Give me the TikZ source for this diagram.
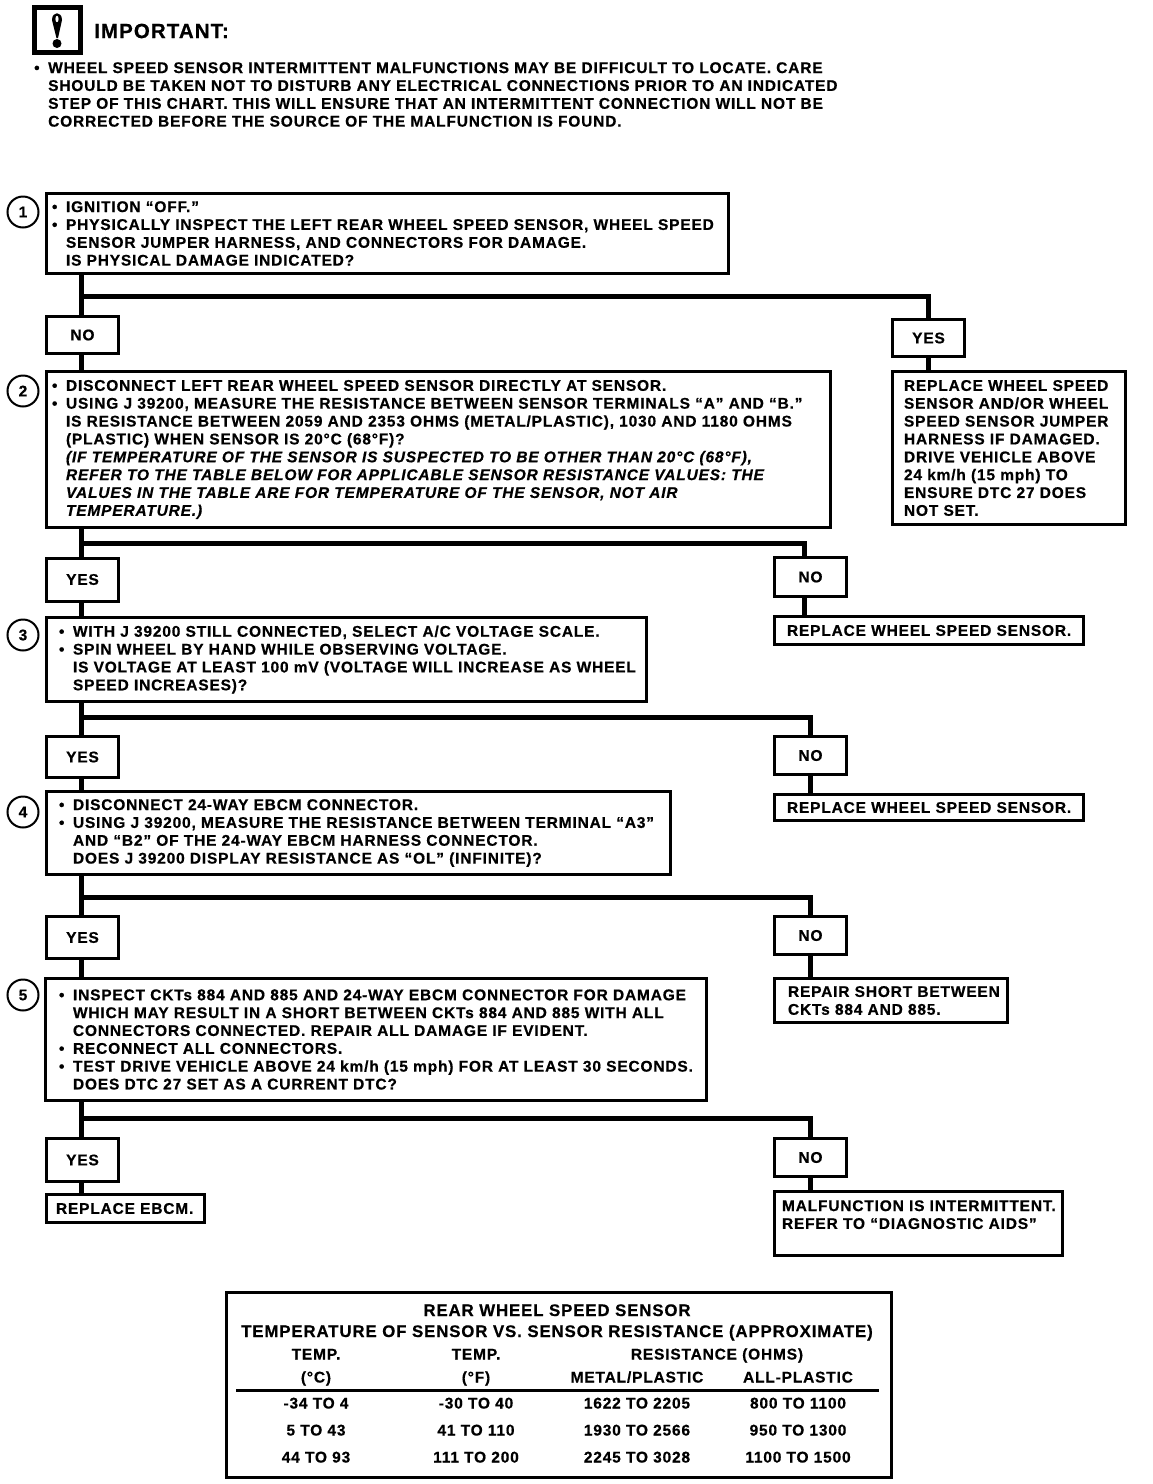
\documentclass[tikz,border=0pt]{standalone}
\usepackage{fontspec}
\setmainfont{Liberation Sans}[LetterSpace=5.3,BoldFeatures={FakeBold=0.6},BoldItalicFeatures={FakeBold=0.6}]
\usetikzlibrary{calc}
\newcommand{\chartfont}{\bfseries\fontsize{15.5}{17.85}\selectfont}
\newcommand{\bul}{\makebox[14pt][l]{\textbullet}}
\newcommand{\ind}{\hspace*{14pt}}
\tikzset{
  chartbox/.style n args={3}{draw,line width=3pt,anchor=north west,inner ysep=0pt,font=\chartfont,align=left,
    minimum width=#1pt,minimum height=#2pt,inner xsep=#3pt,text width=#1pt-2*#3pt},
  answer/.style 2 args={draw,line width=3pt,anchor=north west,inner sep=0pt,font=\chartfont,align=center,
    minimum width=#1pt,minimum height=#2pt},
  stepmark/.style={draw,circle,line width=2pt,minimum size=31pt,inner sep=0pt,font=\chartfont},
  wire/.style={line width=5pt},
  cell/.style={inner sep=0pt,font=\chartfont,text height=11pt,text depth=2pt},
  titlecell/.style={inner sep=0pt,font=\bfseries\fontsize{16.8}{20}\selectfont,text height=12pt,text depth=3pt},
}
\begin{document}
\begin{tikzpicture}[x=1pt,y=-1pt]
    \useasboundingbox (0,0) rectangle (1152,1484);
    % warning mark and note
    \draw[line width=5pt] (34.5,7.5) rectangle (80.5,52.5);
    \fill[black] (52,20) .. controls (52,11) and (62,11) .. (62,20) -- (58,38) -- (56.5,38) -- cycle;
    \fill[white] (57,19) ellipse (1.6 and 3.2);
    \fill[black] (57,43.5) circle (4.5);
    \node[anchor=west,inner sep=0pt,font=\bfseries\fontsize{20.5}{24}\selectfont] (H) at (94,31) {IMPORTANT:};
    \node[anchor=west,inner sep=0pt,font=\chartfont,align=left] (W) at (34,94.5) {%
      \bul WHEEL SPEED SENSOR INTERMITTENT MALFUNCTIONS MAY BE DIFFICULT TO LOCATE. CARE\\
      \ind SHOULD BE TAKEN NOT TO DISTURB ANY ELECTRICAL CONNECTIONS PRIOR TO AN INDICATED\\
      \ind STEP OF THIS CHART. THIS WILL ENSURE THAT AN INTERMITTENT CONNECTION WILL NOT BE\\
      \ind CORRECTED BEFORE THE SOURCE OF THE MALFUNCTION IS FOUND.};
    % numbered steps
    \node[stepmark] (C1) at (23,212) {1};
    \node[stepmark] (C2) at (23,391) {2};
    \node[stepmark] (C3) at (23,635) {3};
    \node[stepmark] (C4) at (23,812) {4};
    \node[stepmark] (C5) at (23,995) {5};
    \node[chartbox={682}{80}{5.5}] (B1) at (45,192) {%
      \bul IGNITION “OFF.”\\
      \bul PHYSICALLY INSPECT THE LEFT REAR WHEEL SPEED SENSOR, WHEEL SPEED\\
      \ind SENSOR JUMPER HARNESS, AND CONNECTORS FOR DAMAGE.\\
      \ind IS PHYSICAL DAMAGE INDICATED?};
    \node[chartbox={784}{156}{5.5}] (B2) at (45,370) {%
      \bul DISCONNECT LEFT REAR WHEEL SPEED SENSOR DIRECTLY AT SENSOR.\\
      \bul USING J 39200, MEASURE THE RESISTANCE BETWEEN SENSOR TERMINALS “A” AND “B.”\\
      \ind IS RESISTANCE BETWEEN 2059 AND 2353 OHMS (METAL/PLASTIC), 1030 AND 1180 OHMS\\
      \ind (PLASTIC) WHEN SENSOR IS 20\textdegree C (68\textdegree F)?\\
      \ind\textit{(IF TEMPERATURE OF THE SENSOR IS SUSPECTED TO BE OTHER THAN 20\textdegree C (68\textdegree F),}\\
      \ind\textit{REFER TO THE TABLE BELOW FOR APPLICABLE SENSOR RESISTANCE VALUES: THE}\\
      \ind\textit{VALUES IN THE TABLE ARE FOR TEMPERATURE OF THE SENSOR, NOT AIR}\\
      \ind\textit{TEMPERATURE.)}};
    \node[chartbox={600}{84}{8}] (B3) at (45,616) {%
      \hspace*{4.5pt}\bul WITH J 39200 STILL CONNECTED, SELECT A/C VOLTAGE SCALE.\\
      \hspace*{4.5pt}\bul SPIN WHEEL BY HAND WHILE OBSERVING VOLTAGE.\\
      \hspace*{18.5pt}IS VOLTAGE AT LEAST 100 mV (VOLTAGE WILL INCREASE AS WHEEL\\
      \hspace*{18.5pt}SPEED INCREASES)?};
    \node[chartbox={624}{83}{12.5}] (B4) at (45,790) {%
      \bul DISCONNECT 24-WAY EBCM CONNECTOR.\\
      \bul USING J 39200, MEASURE THE RESISTANCE BETWEEN TERMINAL “A3”\\
      \ind AND “B2” OF THE 24-WAY EBCM HARNESS CONNECTOR.\\
      \ind DOES J 39200 DISPLAY RESISTANCE AS “OL” (INFINITE)?};
    \node[chartbox={661}{122}{13.5}] (B5) at (44,977) {%
      \bul INSPECT CKTs 884 AND 885 AND 24-WAY EBCM CONNECTOR FOR DAMAGE\\
      \ind WHICH MAY RESULT IN A SHORT BETWEEN CKTs 884 AND 885 WITH ALL\\
      \ind CONNECTORS CONNECTED. REPAIR ALL DAMAGE IF EVIDENT.\\
      \bul RECONNECT ALL CONNECTORS.\\
      \bul TEST DRIVE VEHICLE ABOVE 24 km/h (15 mph) FOR AT LEAST 30 SECONDS.\\
      \ind DOES DTC 27 SET AS A CURRENT DTC?};
    % answers
    \node[answer={72}{37}] (N1) at (45,315) {NO};
    \node[answer={72}{37}] (Y1) at (891,318) {YES};
    \node[answer={72}{43}] (Y2) at (45,556.5) {YES};
    \node[answer={72}{39}] (N2) at (773,556) {NO};
    \node[answer={72}{41}] (Y3) at (45,735) {YES};
    \node[answer={72}{38}] (N3) at (773,735) {NO};
    \node[answer={72}{42}] (Y4) at (45,915) {YES};
    \node[answer={72}{38}] (N4) at (773,915) {NO};
    \node[answer={72}{43}] (Y5) at (45,1137) {YES};
    \node[answer={72}{38}] (N5) at (773,1137) {NO};
    % results
    \node[chartbox={233}{153}{11.5}] (R1) at (891,370) {%
      REPLACE WHEEL SPEED\\SENSOR AND/OR WHEEL\\SPEED SENSOR JUMPER\\HARNESS IF DAMAGED.\\
      DRIVE VEHICLE ABOVE\\24 km/h (15 mph) TO\\ENSURE DTC 27 DOES\\NOT SET.};
    \node[chartbox={309}{28}{12.5}] (R2) at (773,615) {REPLACE WHEEL SPEED SENSOR.};
    \node[chartbox={309}{26}{12.5}] (R3) at (773,793) {REPLACE WHEEL SPEED SENSOR.};
    \node[chartbox={233}{44}{9}] (R4) at (773,977) {\hspace*{4.5pt}REPAIR SHORT BETWEEN\\\hspace*{4.5pt}CKTs 884 AND 885.};
    \node[chartbox={158}{28}{9.5}] (R5) at (45,1193) {REPLACE EBCM.};
    \node[chartbox={288}{64}{7.5}] (R6) at (773,1190) {MALFUNCTION IS INTERMITTENT.\\REFER TO “DIAGNOSTIC AIDS”\\~};
    % connectors
    \coordinate (J1) at (81.5,296);
    \coordinate (J2) at (81.5,543);
    \coordinate (J3) at (81.5,717);
    \coordinate (J4) at (81.5,897);
    \coordinate (J5) at (81.5,1118);
    \draw[wire] (J1 |- B1.south) -- (J1 |- N1.north);
    \draw[wire] (J1 |- N1.south) -- (J1 |- B2.north);
    \draw[wire] (J1) -| (Y1.north);
    \draw[wire] (Y1.south) -- (Y1.south |- R1.north);
    \draw[wire] (J2 |- B2.south) -- (J2 |- Y2.north);
    \draw[wire] (J2 |- Y2.south) -- (J2 |- B3.north);
    \draw[wire] (J2) -| ($(N2.north)+(-6,0)$) coordinate (E2);
    \draw[wire] (E2 |- N2.south) -- (E2 |- R2.north);
    \draw[wire] (J3 |- B3.south) -- (J3 |- Y3.north);
    \draw[wire] (J3 |- Y3.south) -- (J3 |- B4.north);
    \draw[wire] (J3) -| (N3.north);
    \draw[wire] (N3.south) -- (N3.south |- R3.north);
    \draw[wire] (J4 |- B4.south) -- (J4 |- Y4.north);
    \draw[wire] (J4 |- Y4.south) -- (J4 |- B5.north);
    \draw[wire] (J4) -| (N4.north);
    \draw[wire] (N4.south) -- (N4.south |- R4.north);
    \draw[wire] (J5 |- B5.south) -- (J5 |- Y5.north);
    \draw[wire] (J5 |- Y5.south) -- (J5 |- R5.north);
    \draw[wire] (J5) -| (N5.north);
    \draw[wire] (N5.south) -- (N5.south |- R6.north);
    % table
    \node[draw,line width=3pt,anchor=north west,inner sep=0pt,minimum width=665pt,minimum height=185pt] (T) at (225,1291) {};
    \node[titlecell] (T1) at (557,1311.5) {REAR WHEEL SPEED SENSOR};
    \node[titlecell] (T2) at (557,1332.5) {TEMPERATURE OF SENSOR VS. SENSOR RESISTANCE (APPROXIMATE)};
    \node[cell] (TA) at (316,1355) {TEMP.};
    \node[cell] (TB) at (476,1355) {TEMP.};
    \node[cell] (TC) at (717,1355) {RESISTANCE (OHMS)};
    \node[cell] (UA) at (316,1378) {(\textdegree C)};
    \node[cell] (UB) at (476,1378) {(\textdegree F)};
    \node[cell] (UC) at (637,1378) {METAL/PLASTIC};
    \node[cell] (UD) at (798,1378) {ALL-PLASTIC};
    \coordinate (L1) at (236,1390);
    \coordinate (L2) at (879,1390);
    \draw[line width=3pt] (L1) -- (L2);
    \foreach \r/\y/\a/\b/\c/\d in {1/1404/-34 TO 4/-30 TO 40/1622 TO 2205/800 TO 1100,
        2/1431/5 TO 43/41 TO 110/1930 TO 2566/950 TO 1300,
        3/1458/44 TO 93/111 TO 200/2245 TO 3028/1100 TO 1500}{
      \node[cell] (A\r) at (316,\y) {\a};
      \node[cell] (B\r\r) at (476,\y) {\b};
      \node[cell] (D\r) at (637,\y) {\c};
      \node[cell] (E\r) at (798,\y) {\d};
    }
\end{tikzpicture}
\end{document}
